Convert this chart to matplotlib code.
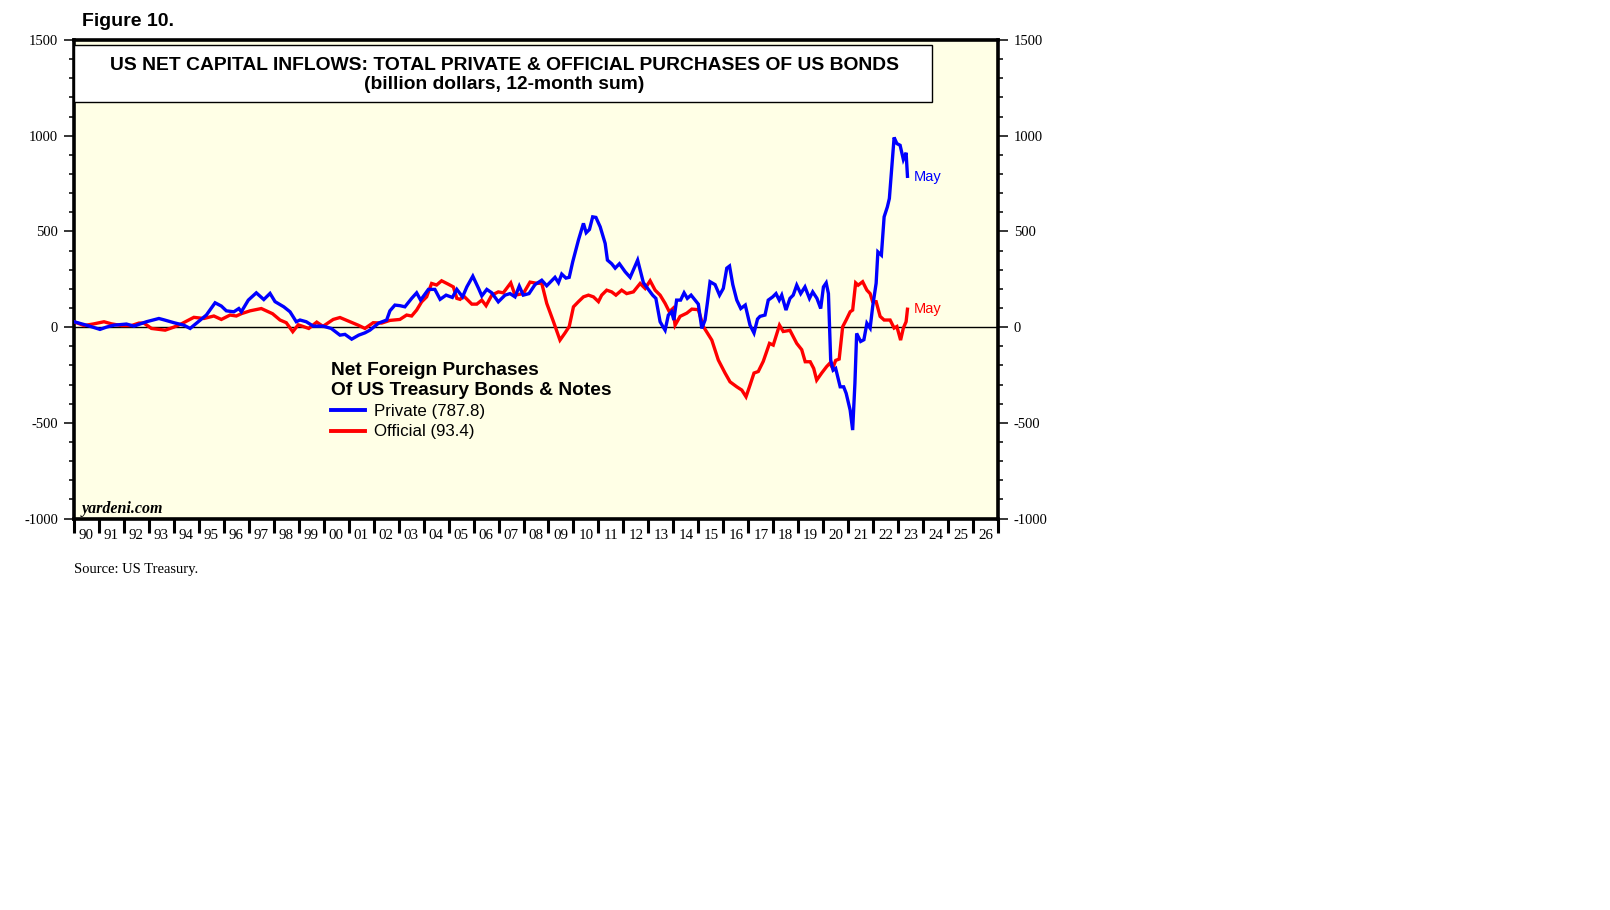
import matplotlib
matplotlib.use("Agg")
import matplotlib.pyplot as plt
from matplotlib.patches import Rectangle
from matplotlib.ticker import MultipleLocator, FixedLocator, NullFormatter, FixedFormatter

# ---------------- data (decimal year, billion $) ----------------
private_t = [1990.0, 1990.5, 1991.04, 1991.3, 1991.6, 1992.1, 1992.4, 1992.9, 1993.4, 1993.6,
             1994.0, 1994.4, 1994.65, 1994.9, 1995.3, 1995.65, 1995.9, 1996.1, 1996.4, 1996.6,
             1996.7, 1996.98, 1997.3, 1997.6, 1997.85, 1998.05, 1998.4, 1998.65, 1998.9,
             1999.05, 1999.3, 1999.58, 1999.97, 2000.3, 2000.65, 2000.85, 2001.12, 2001.4,
             2001.65, 2001.85, 2002.2, 2002.52, 2002.65, 2002.85, 2003.05, 2003.25, 2003.52,
             2003.72, 2003.88, 2004.19, 2004.45, 2004.66, 2004.9, 2005.15, 2005.33, 2005.56,
             2005.73, 2005.97, 2006.2, 2006.33, 2006.53, 2006.73, 2006.99, 2007.26, 2007.46,
             2007.66, 2007.83, 2007.99, 2008.22, 2008.46, 2008.73, 2008.93, 2009.26, 2009.4,
             2009.53, 2009.7, 2009.83, 2009.97, 2010.2, 2010.4, 2010.51, 2010.64, 2010.77,
             2010.9, 2011.07, 2011.27, 2011.36, 2011.53, 2011.67, 2011.84, 2012.07, 2012.27,
             2012.43, 2012.57, 2012.8, 2012.96, 2013.17, 2013.3, 2013.47, 2013.58, 2013.67,
             2013.8, 2013.93, 2014.02, 2014.13, 2014.29, 2014.43, 2014.56, 2014.71, 2014.87,
             2015.0, 2015.14, 2015.27, 2015.36, 2015.47, 2015.67, 2015.85, 2016.0, 2016.14,
             2016.25, 2016.38, 2016.54, 2016.7, 2016.88, 2017.07, 2017.23, 2017.37, 2017.47,
             2017.67, 2017.8, 2017.98, 2018.11, 2018.24, 2018.34, 2018.51, 2018.67, 2018.8,
             2018.94, 2019.1, 2019.27, 2019.45, 2019.58, 2019.75, 2019.9, 2020.01, 2020.12,
             2020.21, 2020.3, 2020.4, 2020.5, 2020.68, 2020.82, 2020.92, 2021.08, 2021.18,
             2021.27, 2021.34, 2021.5, 2021.63, 2021.75, 2021.88, 2021.98, 2022.12, 2022.19,
             2022.33, 2022.44, 2022.57, 2022.65, 2022.84, 2022.95, 2023.08, 2023.21, 2023.32,
             2023.375]
private_v = [28, 10, -12, 0, 10, 16, 5, 28, 45, 38,
             23, 10, -7, 20, 63, 127, 110, 85, 80, 97,
             80, 141, 179, 144, 176, 133, 106, 80, 28,
             37, 28, 5, 5, -7, -42, -38, -63, -42,
             -30, -16, 21, 37, 85, 115, 112, 106, 150,
             179, 141, 197, 197, 145, 167, 155, 197, 158,
             210, 266, 202, 163, 197, 179, 132, 167, 175,
             158, 214, 167, 175, 222, 245, 216, 260, 232,
             277, 256, 260, 341, 455, 542, 493, 510, 576,
             573, 524, 437, 350, 331, 308, 331, 289, 260,
             308, 350, 232, 204, 167, 150, 28, 3, -16,
             63, 80, 37, 141, 141, 179, 150, 167, 141,
             120, -7, 37, 124, 237, 222, 167, 202, 308,
             319, 222, 141, 97, 115, 10, -31, 42, 56,
             63, 141, 158, 175, 141, 167, 89, 150, 167,
             219, 175, 210, 150, 184, 150, 97, 210, 231,
             175, -172, -225, -216, -312, -312, -346, -434, -538,
             -295, -33, -75, -66, 20, -5, 106, 229, 393,
             376, 576, 628, 672, 991, 959, 950, 876, 911,
             787.8]

official_t = [1990.0, 1990.4, 1990.8, 1991.2, 1991.5, 1991.9, 1992.3, 1992.6, 1992.8, 1993.1,
              1993.65, 1994.0, 1994.3, 1994.8, 1995.2, 1995.6, 1995.9, 1996.25, 1996.5, 1996.7,
              1997.05, 1997.5, 1997.7, 1997.95, 1998.25, 1998.5, 1998.76, 1998.98, 1999.4,
              1999.72, 1999.97, 2000.38, 2000.65, 2001.05, 2001.38, 2001.65, 2001.98, 2002.32,
              2002.65, 2003.05, 2003.32, 2003.52, 2003.72, 2003.92, 2004.12, 2004.32, 2004.52,
              2004.72, 2004.99, 2005.19, 2005.33, 2005.46, 2005.6, 2005.93, 2006.13, 2006.33,
              2006.5, 2006.73, 2006.99, 2007.19, 2007.49, 2007.66, 2007.99, 2008.26, 2008.53,
              2008.73, 2008.93, 2009.2, 2009.46, 2009.66, 2009.83, 2010.0, 2010.2, 2010.4,
              2010.6, 2010.8, 2011.0, 2011.13, 2011.33, 2011.53, 2011.7, 2011.93, 2012.13,
              2012.4, 2012.67, 2012.87, 2013.07, 2013.27, 2013.47, 2013.67, 2013.84, 2013.98,
              2014.07, 2014.27, 2014.54, 2014.74, 2015.0, 2015.2, 2015.54, 2015.8, 2016.07,
              2016.27, 2016.54, 2016.74, 2016.91, 2017.07, 2017.23, 2017.4, 2017.6, 2017.85,
              2018.0, 2018.25, 2018.4, 2018.67, 2018.94, 2019.14, 2019.28, 2019.48, 2019.62,
              2019.74, 2019.94, 2020.14, 2020.27, 2020.38, 2020.5, 2020.64, 2020.78, 2020.92,
              2021.08, 2021.18, 2021.3, 2021.4, 2021.58, 2021.75, 2021.88, 2021.98, 2022.12,
              2022.28, 2022.44, 2022.68, 2022.84, 2022.95, 2023.1, 2023.21, 2023.32, 2023.375]
official_v = [28, 8, 17, 28, 17, 8, 8, 21, 21, -7,
              -16, 0, 17, 51, 45, 58, 40, 63, 58, 70,
              85, 97, 85, 70, 37, 23, -24, 12, -7,
              26, 4, 40, 50, 28, 10, -7, 23, 21,
              35, 40, 63, 58, 89, 132, 158, 228, 220,
              242, 224, 210, 150, 145, 163, 120, 120, 141,
              112, 167, 184, 179, 231, 167, 175, 235, 229,
              229, 124, 28, -68, -31, 3, 106, 133, 158,
              167, 158, 133, 167, 193, 184, 167, 193, 175,
              184, 228, 202, 242, 193, 167, 124, 80, 97,
              10, 56, 73, 94, 91, 3, -68, -172, -240,
              -286, -312, -329, -364, -303, -240, -232, -179, -85,
              -94, 10, -23, -17, -85, -118, -181, -181, -216,
              -277, -240, -206, -188, -216, -174, -167, 2, 37,
              80, 89, 231, 219, 237, 193, 175, 133, 133,
              56, 37, 37, -5, 3, -68, -5, 28, 93.4]

year_ticks = list(range(1990, 2028))
year_labels = [f"{y % 100:02d}" for y in range(1990, 2027)]
y_ticks = [-1000, -500, 0, 500, 1000, 1500]

# ---------------- figure ----------------
W, H = 1610, 910
fig = plt.figure(figsize=(W / 100, H / 100), dpi=100)
fig.patch.set_facecolor("white")

def fx(px):
    return px / W

def fy(py):
    return 1 - py / H

ax_l, ax_r, ax_t, ax_b = 74, 998, 40, 518.5
ax = fig.add_axes([fx(ax_l), fy(ax_b), (ax_r - ax_l) / W, (ax_b - ax_t) / H])
ax.set_facecolor("#FFFFE6")

ax.plot(private_t, private_v, color="#0000FF", lw=2.4, label="Private (787.8)", zorder=4,
        solid_joinstyle="miter")
ax.plot(official_t, official_v, color="#FF0000", lw=2.4, label="Official (93.4)", zorder=3,
        solid_joinstyle="miter")
ax.axhline(0, color="black", lw=1.0, zorder=2)

ax.set_xlim(1990, 2027)
ax.set_ylim(-1000, 1500)

for s in ax.spines.values():
    s.set_linewidth(2.6)
    s.set_color("black")

serif = "Liberation Serif"
sans = "Liberation Sans"

# y axis (both sides)
ax.yaxis.set_major_locator(FixedLocator(y_ticks))
ax.yaxis.set_minor_locator(MultipleLocator(100))
ax.tick_params(axis="y", which="both", direction="out", left=True, right=True,
               labelleft=True, labelright=True, width=1.1, colors="black")
ax.tick_params(axis="y", which="major", length=7.5, pad=4, labelsize=10.5)
ax.tick_params(axis="y", which="minor", length=3.8)
ax.set_yticklabels([str(v) for v in y_ticks], fontfamily=serif, fontsize=10.5)

# x axis: long ticks at year boundaries, labels centred in each year
ax.xaxis.set_major_locator(FixedLocator(year_ticks))
ax.xaxis.set_major_formatter(NullFormatter())
ax.xaxis.set_minor_locator(FixedLocator([y + 0.5 for y in range(1990, 2027)]))
ax.xaxis.set_minor_formatter(FixedFormatter(year_labels))
ax.tick_params(axis="x", which="major", direction="out", length=10, width=2.2, bottom=True, top=False)
ax.tick_params(axis="x", which="minor", length=0, pad=7.5, labelsize=10.8)
for lab in ax.get_xminorticklabels():
    lab.set_fontfamily(serif)

# title box
ax.add_patch(Rectangle((0, (ax_b - 102) / (ax_b - ax_t)), (932 - ax_l) / (ax_r - ax_l),
                       (102 - 45) / (ax_b - ax_t), transform=ax.transAxes,
                       facecolor="white", edgecolor="black", lw=1.0, zorder=5, clip_on=False))
fig.text(fx(504), fy(65), "US NET CAPITAL INFLOWS: TOTAL PRIVATE & OFFICIAL PURCHASES OF US BONDS",
         ha="center", va="center", fontsize=13.9, fontweight="bold", family=sans, zorder=6)
fig.text(fx(504), fy(84.5), "(billion dollars, 12-month sum)",
         ha="center", va="center", fontsize=13.9, fontweight="bold", family=sans, zorder=6)

fig.text(fx(82), fy(22), "Figure 10.", ha="left", va="center", fontsize=14,
         fontweight="bold", family=sans)

# legend
leg = ax.legend(loc="upper left", bbox_to_anchor=(fx(331), fy(362)), bbox_transform=fig.transFigure,
                frameon=False, title="Net Foreign Purchases\nOf US Treasury Bonds & Notes",
                alignment="left", prop={"family": sans, "size": 12.2},
                title_fontproperties={"family": sans, "size": 13.8, "weight": "bold"},
                handlelength=2.0, handletextpad=0.55, labelspacing=0.32, borderpad=0.0,
                borderaxespad=0.0)
for h in leg.get_lines():
    h.set_linewidth(2.8)

# end labels
fig.text(fx(914), fy(177), "May", color="#0000FF", fontsize=10.5, family=sans, va="center", ha="left")
fig.text(fx(914), fy(309), "May", color="#FF0000", fontsize=10.5, family=sans, va="center", ha="left")

fig.text(fx(82), fy(509), "yardeni.com", fontsize=11.5, family=serif, style="italic",
         fontweight="bold", va="center", ha="left")
fig.text(fx(74), fy(570), "Source: US Treasury.", fontsize=10.5, family=serif, va="center", ha="left")

fig.savefig("out.png", dpi=100, facecolor="white")
